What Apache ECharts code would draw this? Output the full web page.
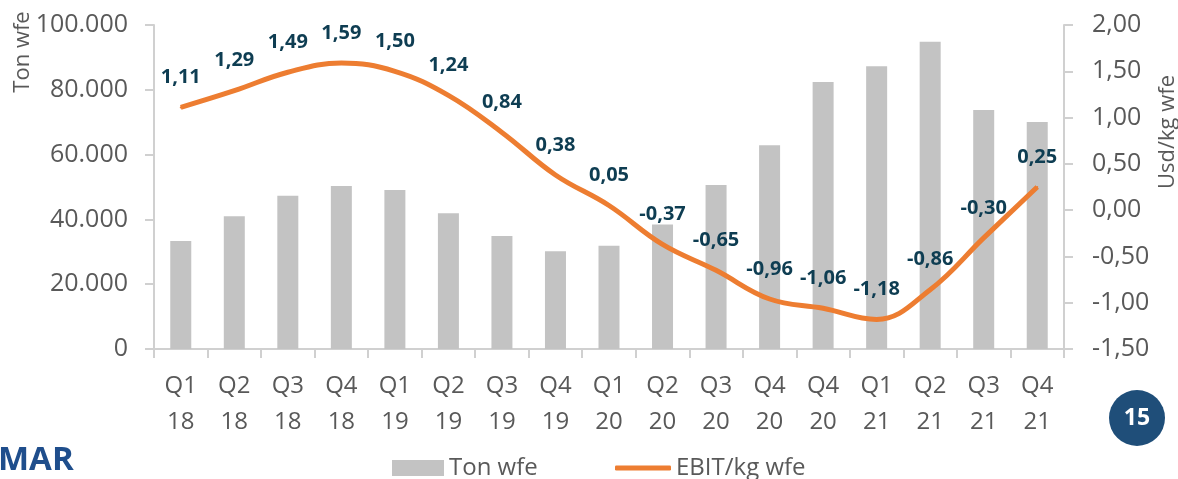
<!DOCTYPE html>
<html>
<head>
<meta charset="utf-8">
<script src="https://cdn.jsdelivr.net/npm/echarts@6/dist/echarts.min.js"></script>
<style>
  html, body { margin: 0; padding: 0; background: #fff; }
  #main { width: 1178px; height: 479px; }
</style>
</head>
<body>
<div id="main"></div>
<script>
// categories (quarter / year), Q4 20 appears twice in the original
const quarters = ['Q1 18', 'Q2 18', 'Q3 18', 'Q4 18', 'Q1 19', 'Q2 19', 'Q3 19', 'Q4 19',
  'Q1 20', 'Q2 20', 'Q3 20', 'Q4 20', 'Q4 20', 'Q1 21', 'Q2 21', 'Q3 21', 'Q4 21'];
const tonWfe = [33300, 41000, 47300, 50300, 49100, 41900, 34900, 30200,
  31900, 38400, 50600, 62900, 82400, 87300, 94800, 73800, 70100];
const ebitKg = [1.11, 1.29, 1.49, 1.59, 1.50, 1.24, 0.84, 0.38,
  0.05, -0.37, -0.65, -0.96, -1.06, -1.18, -0.86, -0.30, 0.25];

const font = '"Open Sans", "Noto Sans", sans-serif';
const grey = '#595959';
const axisGrey = '#d0d0d0';

const chart = echarts.init(document.getElementById('main'));

const comma = v => v.toFixed(2).replace('.', ',');
const thousands = v => String(v).replace(/\B(?=(\d{3})+(?!\d))/g, '.');

chart.setOption({
  animation: false,
  textStyle: { fontFamily: font },
  grid: { left: 154, right: 114, top: 25, bottom: 130, outerBoundsMode: 'none', containLabel: false },
  legend: [
    {
      data: ['Ton wfe'],
      left: 387, top: 451,
      itemWidth: 52, itemHeight: 16, icon: 'rect',
      textStyle: { fontSize: 24, color: grey, fontFamily: font }
    },
    {
      data: ['EBIT/kg wfe'],
      left: 610, top: 451,
      itemWidth: 56, itemHeight: 5, icon: 'roundRect',
      textStyle: { fontSize: 24, color: grey, fontFamily: font }
    }
  ],
  xAxis: {
    type: 'category',
    data: quarters,
    axisLine: { lineStyle: { color: axisGrey, width: 2 } },
    axisTick: { show: true, length: 9, lineStyle: { color: axisGrey, width: 2 } },
    axisLabel: {
      interval: 0,
      margin: 19,
      color: grey,
      fontSize: 24,
      lineHeight: 36,
      formatter: v => v.replace(' ', '\n')
    }
  },
  yAxis: [
    {
      type: 'value',
      min: 0, max: 100000, interval: 20000,
      axisLine: { show: true, lineStyle: { color: axisGrey, width: 2 } },
      axisTick: { show: true, length: 9, lineStyle: { color: axisGrey, width: 2 } },
      splitLine: { show: false },
      axisLabel: { color: grey, fontSize: 25, margin: 26, formatter: thousands }
    },
    {
      type: 'value',
      min: -1.5, max: 2, interval: 0.5,
      axisLine: { show: true, lineStyle: { color: axisGrey, width: 2 } },
      axisTick: { show: true, length: 9, lineStyle: { color: axisGrey, width: 2 } },
      splitLine: { show: false },
      axisLabel: { color: grey, fontSize: 25, margin: 28, formatter: comma }
    }
  ],
  series: [
    {
      name: 'Ton wfe',
      type: 'bar',
      data: tonWfe,
      barWidth: 21,
      itemStyle: { color: '#c3c3c3' }
    },
    {
      name: 'EBIT/kg wfe',
      type: 'line',
      yAxisIndex: 1,
      data: ebitKg,
      smooth: 0.4,
      symbol: 'circle',
      symbolSize: 2,
      itemStyle: { color: '#ed7d31' },
      lineStyle: { color: '#ed7d31', width: 5 },
      label: {
        show: true,
        position: 'top',
        distance: 19,
        color: '#0e3d52',
        fontWeight: 'bold',
        fontSize: 20,
        formatter: p => comma(p.value)
      }
    }
  ],
  graphic: [
    {
      type: 'text', x: 23, y: 52, rotation: Math.PI / 2,
      style: { text: 'Ton wfe', fill: grey, font: '22px ' + font, align: 'center', verticalAlign: 'middle' }
    },
    {
      type: 'text', x: 1168, y: 132, rotation: Math.PI / 2,
      style: { text: 'Usd/kg wfe', fill: grey, font: '22px ' + font, align: 'center', verticalAlign: 'middle' }
    },
    {
      type: 'text', left: -2, top: 444,
      style: { text: 'MAR', fill: '#1f4e8c', font: 'bold 33px ' + font }
    },
    {
      type: 'circle', shape: { cx: 1137, cy: 418, r: 28 },
      style: { fill: '#1f4e79' }
    },
    {
      type: 'text', x: 1137, y: 418,
      style: { text: '15', fill: '#fff', font: 'bold 23px ' + font, align: 'center', verticalAlign: 'middle' }
    }
  ]
});
</script>
</body>
</html>
